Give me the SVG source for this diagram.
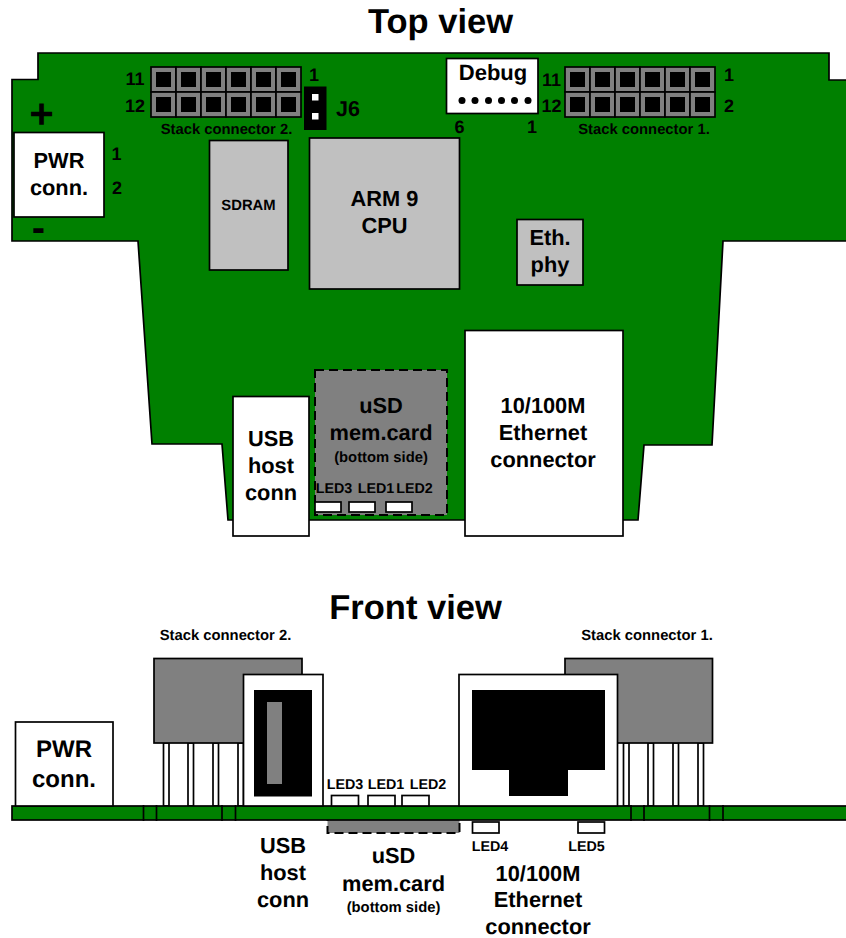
<svg xmlns="http://www.w3.org/2000/svg" width="846" height="938" viewBox="0 0 846 938">
<style>
text{font-family:"Liberation Sans",Arial,sans-serif;font-weight:bold;fill:#000;text-anchor:middle;text-rendering:geometricPrecision}
.b{stroke:#000;stroke-width:1.7}
.w{fill:#fff}.g{fill:#808080}.c{fill:#c0c0c0}.p{fill:#008000}.k{fill:#000;stroke:none}
.d{stroke-dasharray:9 5;stroke-width:2}
.t{font-size:34.5px}.l{font-size:21.8px}.f{font-size:24px}.s{font-size:14.8px}.n{font-size:18px}.e{font-size:14.3px}
</style>
<defs>
<g id="cell"><rect class="b g" width="25" height="25"/><rect class="k" x="5" y="5" width="15" height="15"/></g>
<g id="hdr"><use href="#cell"/><use href="#cell" x="25"/><use href="#cell" x="50"/><use href="#cell" x="75"/><use href="#cell" x="100"/><use href="#cell" x="125"/>
<use href="#cell" y="25"/><use href="#cell" x="25" y="25"/><use href="#cell" x="50" y="25"/><use href="#cell" x="75" y="25"/><use href="#cell" x="100" y="25"/><use href="#cell" x="125" y="25"/></g>
<rect id="pin" class="b w" width="5.5" height="63"/>
</defs>
<text class="t" x="440.500" y="33">Top view</text>
<g id="top-board"><path class="b p" d="M860 80H829V53H38V79.500H12V241H138L152 444H222L228 520H638L644 445H712L723 241H860Z"/>
<text x="41.500" y="128" style="font-size:42px">+</text><text x="38.500" y="241" style="font-size:40px">-</text></g>
<g id="top-stack2"><use href="#hdr" x="151" y="67"/>
<text class="n" x="135" y="85">11</text><text class="n" x="135" y="112">12</text><text class="n" x="314" y="81">1</text>
<text class="s" x="226.500" y="134">Stack connector 2.</text></g>
<g id="top-j6"><rect class="k" x="304" y="86.500" width="22.500" height="43.500"/><rect class="w" x="312" y="94" width="6.500" height="6.500"/><rect class="w" x="312" y="113" width="6.500" height="6.500"/>
<text x="348" y="116" style="font-size:21.500px">J6</text></g>
<g id="top-stack1"><use href="#hdr" x="565" y="67"/>
<text class="n" x="551.500" y="86">11</text><text class="n" x="551.500" y="112">12</text><text class="n" x="729" y="81">1</text><text class="n" x="729" y="112">2</text>
<text class="s" x="644" y="134">Stack connector 1.</text></g>
<g id="top-debug"><rect class="b w" x="446.500" y="58.500" width="91.500" height="55"/><text x="493" y="80" style="font-size:22px">Debug</text>
<circle class="k" cx="462" cy="100.500" r="3.500"/><circle class="k" cx="475" cy="100.500" r="3.500"/><circle class="k" cx="488.500" cy="100.500" r="3.500"/><circle class="k" cx="501.500" cy="100.500" r="3.500"/><circle class="k" cx="514.500" cy="100.500" r="3.500"/><circle class="k" cx="528" cy="100.500" r="3.500"/>
<text class="n" x="459.500" y="133">6</text><text class="n" x="532" y="133">1</text></g>
<g id="top-pwr"><rect class="b w" x="14" y="132.500" width="90" height="84.500"/><text class="l" x="59" y="168">PWR</text><text class="l" x="59" y="195">conn.</text>
<text class="n" x="116.500" y="160">1</text><text class="n" x="117" y="194">2</text></g>
<g id="top-sdram"><rect class="b c" x="209.500" y="140.500" width="78.500" height="129.500"/><text class="s" x="248.500" y="210">SDRAM</text></g>
<g id="top-cpu"><rect class="b c" x="309.500" y="138" width="150" height="151"/><text class="l" x="384.500" y="206">ARM 9</text><text class="l" x="384.500" y="233">CPU</text></g>
<g id="top-eth-phy"><rect class="b c" x="517" y="219.500" width="66" height="65.500"/><text class="l" x="550" y="245">Eth.</text><text class="l" x="550" y="272">phy</text></g>
<g id="top-usd"><rect class="b g d" x="315" y="370" width="132" height="145"/><text class="l" x="381" y="413">uSD</text><text class="l" x="381" y="440">mem.card</text><text class="s" x="381" y="462">(bottom side)</text>
<text class="e" x="334" y="493">LED3</text><text class="e" x="376" y="493">LED1</text><text class="e" x="414.500" y="493">LED2</text>
<rect class="b w" x="315" y="502" width="26" height="10"/><rect class="b w" x="349" y="502" width="26" height="10"/><rect class="b w" x="386" y="502" width="26" height="10"/></g>
<g id="top-usb"><rect class="b w" x="233" y="396.500" width="76" height="139.500"/><text class="l" x="271" y="446">USB</text><text class="l" x="271" y="473">host</text><text class="l" x="271" y="500">conn</text></g>
<g id="top-ethernet"><rect class="b w" x="465" y="330.500" width="158" height="205.500"/><text class="l" x="543" y="413">10/100M</text><text class="l" x="543" y="440">Ethernet</text><text class="l" x="543" y="467">connector</text></g>

<text class="t" x="415.500" y="619">Front view</text>
<text class="s" x="225.500" y="640">Stack connector 2.</text><text class="s" x="647" y="640">Stack connector 1.</text>
<g id="front-stack2"><use href="#pin" x="163.500" y="743"/><use href="#pin" x="188" y="743"/><use href="#pin" x="213" y="743"/><use href="#pin" x="238" y="743"/><rect class="b g" x="154" y="658.500" width="148" height="84.500"/></g>
<g id="front-stack1"><use href="#pin" x="623.500" y="743"/><use href="#pin" x="648" y="743"/><use href="#pin" x="673" y="743"/><use href="#pin" x="698" y="743"/><rect class="b g" x="565" y="658.500" width="147.500" height="84.500"/></g>
<g id="front-usd"><rect class="b g d" x="327.500" y="815" width="132" height="18"/></g>
<g id="front-board"><rect class="b p" x="12" y="806" width="850" height="14"/>
<path class="b" fill="none" d="M143.500 805V821M156.500 805V821M222 805V821M235.500 805V821M631 805V821M644 805V821M709.500 805V821M723 805V821"/></g>
<g id="front-pwr"><rect class="b w" x="15.500" y="722" width="97.500" height="84"/><text class="f" x="64" y="757">PWR</text><text class="f" x="64" y="787">conn.</text></g>
<g id="front-usb"><rect class="b w" x="243.500" y="674.500" width="79.500" height="131.500"/><rect class="k" x="254" y="690" width="58" height="106.500"/><rect class="g" x="267" y="702" width="15" height="82"/></g>
<g id="front-ethernet"><rect class="b w" x="459" y="674.500" width="158.500" height="131.500"/><path class="k" d="M472 690H605V770H568V796H509V770H472Z"/></g>
<g id="front-leds"><rect class="b w" x="331.500" y="795.500" width="27" height="10.500"/><rect class="b w" x="368" y="795.500" width="27" height="10.500"/><rect class="b w" x="402" y="795.500" width="27" height="10.500"/>
<text class="e" x="345" y="789">LED3</text><text class="e" x="386" y="789">LED1</text><text class="e" x="428" y="789">LED2</text>
<rect class="b w" x="472.500" y="822" width="26.500" height="11"/><rect class="b w" x="578" y="822" width="26.500" height="11"/>
<text class="e" x="490" y="851">LED4</text><text class="e" x="586.500" y="851">LED5</text></g>
<g id="front-labels"><text class="l" x="283" y="853">USB</text><text class="l" x="283" y="880">host</text><text class="l" x="283" y="907">conn</text>
<text class="l" x="393.500" y="863">uSD</text><text class="l" x="393.500" y="891">mem.card</text><text class="s" x="393.500" y="912">(bottom side)</text>
<text class="l" x="538" y="881">10/100M</text><text class="l" x="538" y="907">Ethernet</text><text class="l" x="538" y="934">connector</text></g>
</svg>
